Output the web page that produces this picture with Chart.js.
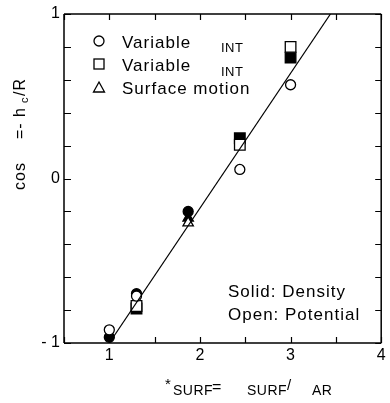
<!DOCTYPE html>
<html>
<head>
<meta charset="utf-8">
<script src="https://cdn.jsdelivr.net/npm/chart.js@4.4.8/dist/chart.umd.min.js"></script>
<style>
  html, body { margin: 0; padding: 0; background: #fff; }
  canvas { display: block; }
</style>
</head>
<body>
<canvas id="c" width="390" height="403"></canvas>
<script>
// open = potential, solid = density
const circleOpenX = [1.0, 1.3, 2.44, 3.0];
const circleOpenY = [-0.92, -0.715, 0.055, 0.57];
const circleSolidX = [1.0, 1.3, 1.87];
const circleSolidY = [-0.965, -0.70, -0.20];
const squareOpenX = [1.3, 2.44, 3.0];
const squareOpenY = [-0.775, 0.205, 0.80];
const squareSolidX = [1.3, 2.44, 3.0];
const squareSolidY = [-0.79, 0.245, 0.735];
const triOpenX = [1.87];
const triOpenY = [-0.27];
const triSolidX = [1.87];
const triSolidY = [-0.24];
const fitX = [1.0, 3.44];
const fitY = [-1.0, 1.0];

const xTicks = [0.5, 1, 1.5, 2, 2.5, 3, 3.5, 4];
const xLabels = ['1', '2', '3', '4'];
const yTicks = [-1, -0.8, -0.6, -0.4, -0.2, 0, 0.2, 0.4, 0.6, 0.8, 1];
const yLabelVals = [-1, 0, 1];
const yLabels = ['- 1', '0', '1'];

const FONT = '"Liberation Sans", Arial, sans-serif';

function pts(xs, ys) { return xs.map((x, i) => ({ x: x, y: ys[i] })); }

function markerSet(xs, ys, style, filled, r) {
  return {
    type: 'scatter',
    data: pts(xs, ys),
    pointStyle: style,
    pointRadius: r,
    pointHoverRadius: r,
    pointBackgroundColor: filled ? '#000' : '#fff',
    pointBorderColor: '#000',
    pointBorderWidth: 1.3,
    showLine: false
  };
}

// axes, ticks and annotations
const decor = {
  id: 'decor',
  afterDatasetsDraw(chart) {
    const c = chart.ctx, a = chart.chartArea;
    const xs = chart.scales.x, ys = chart.scales.y;
    c.save();
    c.strokeStyle = '#000';
    c.lineWidth = 1.5;
    c.beginPath();
    c.moveTo(a.left, a.top); c.lineTo(a.right, a.top);
    c.moveTo(a.left, a.top); c.lineTo(a.left, a.bottom);
    c.moveTo(a.left, a.bottom); c.lineTo(a.right, a.bottom);
    c.moveTo(a.right, a.top); c.lineTo(a.right, a.bottom);
    c.stroke();
    c.lineWidth = 1.2;
    c.beginPath();
    xTicks.forEach(v => {
      const px = Math.round(xs.getPixelForValue(v)) + 0.5;
      c.moveTo(px, a.bottom); c.lineTo(px, a.bottom - 6);
      c.moveTo(px, a.top); c.lineTo(px, a.top + 6);
    });
    yTicks.forEach(v => {
      const py = Math.round(ys.getPixelForValue(v)) + 0.5;
      c.moveTo(a.left, py); c.lineTo(a.left + 7, py);
      c.moveTo(a.right, py); c.lineTo(a.right - 6, py);
    });
    c.stroke();

    c.fillStyle = '#000';
    c.font = '16px ' + FONT;
    c.textAlign = 'center';
    c.textBaseline = 'alphabetic';
    xLabels.forEach(t => {
      c.fillText(t, xs.getPixelForValue(parseFloat(t)), 360);
    });
    c.textAlign = 'right';
    c.textBaseline = 'middle';
    yLabelVals.forEach((v, i) => {
      c.fillText(yLabels[i], a.left - 4, ys.getPixelForValue(v));
    });

    // legend
    c.textAlign = 'left';
    c.textBaseline = 'alphabetic';
    c.lineWidth = 1.3;
    c.beginPath(); c.arc(99, 41, 5, 0, Math.PI * 2); c.stroke();
    c.strokeRect(94, 59, 10, 10);
    c.beginPath(); c.moveTo(99, 82); c.lineTo(104.5, 92); c.lineTo(93.5, 92); c.closePath(); c.stroke();
    c.letterSpacing = '1px';
    c.font = '17px ' + FONT;
    c.fillText('Variable', 122, 48);
    c.fillText('Variable', 122, 71);
    c.fillText('Surface motion', 122, 94);
    c.fillText('Solid: Density', 228, 297);
    c.fillText('Open: Potential', 228, 320);
    c.letterSpacing = '0.5px';
    c.font = '13px ' + FONT;
    c.fillText('INT', 221, 52);
    c.fillText('INT', 221, 76);

    // x title
    c.font = '15px ' + FONT;
    c.fillText('*', 165, 389);
    c.font = '14px ' + FONT;
    c.fillText('SURF', 173, 395);
    c.font = '16px ' + FONT;
    c.fillText('=', 212, 392);
    c.font = '14px ' + FONT;
    c.fillText('SURF', 247, 395);
    c.font = '15px ' + FONT;
    c.fillText('/', 287, 390);
    c.font = '14px ' + FONT;
    c.fillText('AR', 312, 395);

    // y title, rotated
    c.save();
    c.translate(25, 0);
    c.rotate(-Math.PI / 2);
    c.letterSpacing = '1px';
    c.font = '16px ' + FONT;
    c.fillText('cos', -190, 0);
    c.fillText('=- h', -139, 0);
    c.font = '11px ' + FONT;
    c.fillText('c', -103, 3);
    c.font = '16px ' + FONT;
    c.fillText('/R', -96, 0);
    c.restore();
    c.restore();
  }
};

// first dataset is drawn on top
new Chart(document.getElementById('c'), {
  type: 'scatter',
  data: {
    datasets: [
      {
        type: 'line',
        data: pts(fitX, fitY),
        borderColor: '#000',
        borderWidth: 1.2,
        pointRadius: 0,
        fill: false,
        tension: 0
      },
      markerSet(circleOpenX, circleOpenY, 'circle', false, 5),
      markerSet(squareOpenX, squareOpenY, 'rect', false, 7.5),
      markerSet(triOpenX, triOpenY, 'triangle', false, 6),
      markerSet(circleSolidX, circleSolidY, 'circle', true, 5),
      markerSet(squareSolidX, squareSolidY, 'rect', true, 7.5),
      markerSet(triSolidX, triSolidY, 'triangle', true, 6)
    ]
  },
  options: {
    responsive: false,
    animation: false,
    layout: { padding: { left: 64, top: 14, right: 0, bottom: 60 } },
    plugins: { legend: { display: false }, tooltip: { enabled: false } },
    scales: {
      x: { type: 'linear', min: 0.5, max: 4, display: false },
      y: { type: 'linear', min: -1, max: 1, display: false }
    }
  },
  plugins: [decor]
});
</script>
</body>
</html>
